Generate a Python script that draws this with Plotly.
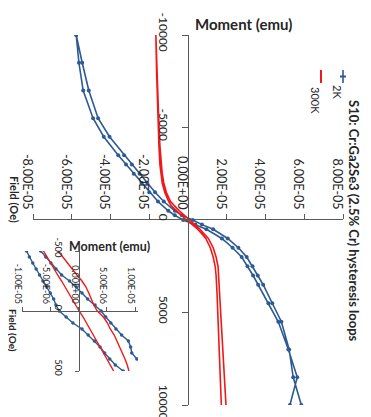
import plotly.graph_objects as go

W, H = 371, 417
FONT = "Lato"
TXT = "#262626"
AX = "#595959"
BLUE = "#2C5A92"
RED = "#F01818"

# ---------------- main chart data ----------------
field_2k_down = [10000, 8500, 7000, 5500, 4500, 3500, 3000, 2500, 2000, 1500, 1000, 500, 250, 0,
                 -250, -500, -1000, -1500, -2000, -2500, -3000, -3500, -4500, -5500, -7000, -8500, -10000]
moment_2k_down = [5.85e-05, 5.43e-05, 5.22e-05, 4.82e-05, 4.35e-05, 3.88e-05, 3.60e-05, 3.33e-05, 3.03e-05,
                  2.60e-05, 2.05e-05, 1.30e-05, 0.72e-05, 0.25e-05, -0.32e-05, -0.68e-05, -1.25e-05,
                  -1.70e-05, -2.10e-05, -2.50e-05, -2.90e-05, -3.30e-05, -4.05e-05, -4.64e-05, -5.12e-05,
                  -5.46e-05, -5.77e-05]
field_2k_up = [-10000, -8500, -7000, -5500, -4500, -3500, -3000, -2500, -2000, -1500, -1000, -500, -250, 0,
               250, 500, 1000, 1500, 2000, 2500, 3000, 3500, 4500, 5500, 7000, 8500, 10000]
moment_2k_up = [-5.77e-05, -5.63e-05, -5.41e-05, -4.90e-05, -4.35e-05, -3.60e-05, -3.20e-05, -2.80e-05,
                -2.40e-05, -2.00e-05, -1.55e-05, -1.02e-05, -0.68e-05, -0.25e-05, 0.38e-05, 0.95e-05,
                1.75e-05, 2.30e-05, 2.77e-05, 3.07e-05, 3.36e-05, 3.62e-05, 4.15e-05, 4.66e-05, 5.18e-05,
                5.64e-05, 5.26e-05]

field_300k_down = [10000, 8000, 6000, 4000, 3000, 2500, 2000, 1500, 1000, 750, 500, 250, 0,
                   -250, -500, -750, -1000, -1500, -2000, -2500, -3000, -4000, -6000, -8000, -10000]
moment_300k_down = [1.96e-05, 1.85e-05, 1.75e-05, 1.65e-05, 1.60e-05, 1.55e-05, 1.45e-05, 1.30e-05, 1.05e-05,
                    0.85e-05, 0.62e-05, 0.35e-05, 0.08e-05, -0.20e-05, -0.45e-05, -0.68e-05, -0.90e-05,
                    -1.12e-05, -1.25e-05, -1.33e-05, -1.38e-05, -1.45e-05, -1.53e-05, -1.59e-05, -1.64e-05]
field_300k_up = [-10000, -8000, -6000, -4000, -3000, -2500, -2000, -1500, -1000, -750, -500, -250, 0,
                 250, 500, 750, 1000, 1500, 2000, 2500, 3000, 4000, 6000, 8000, 10000]
moment_300k_up = [-1.66e-05, -1.62e-05, -1.57e-05, -1.50e-05, -1.45e-05, -1.40e-05, -1.33e-05, -1.20e-05,
                  -1.00e-05, -0.85e-05, -0.60e-05, -0.35e-05, -0.08e-05, 0.22e-05, 0.50e-05, 0.72e-05,
                  0.92e-05, 1.15e-05, 1.30e-05, 1.40e-05, 1.45e-05, 1.50e-05, 1.58e-05, 1.65e-05, 1.72e-05]

moment_ticks = [-8e-05, -6e-05, -4e-05, -2e-05, 0, 2e-05, 4e-05, 6e-05, 8e-05]
moment_labels = ["-8.00E-05", "-6.00E-05", "-4.00E-05", "-2.00E-05", "0.00E+00",
                 "2.00E-05", "4.00E-05", "6.00E-05", "8.00E-05"]
field_ticks = [-10000, -5000, 0, 5000, 10000]
field_labels = ["-10000", "-5000", "0", "5000", "10000"]

# ---------------- inset data (low field) ----------------
inset_field = [-500, -450, -400, -350, -300, -250, -200, -150, -100, -50, 0,
               50, 100, 150, 200, 250, 300, 350, 400, 450, 500]
inset_2k_a = [-9.2e-06, -8.7e-06, -8.1e-06, -7.5e-06, -6.9e-06, -6.3e-06, -5.6e-06, -5.0e-06, -4.4e-06,
              -4.0e-06, -3.4e-06, -2.2e-06, -1.0e-06, 0.6e-06, 1.7e-06, 2.8e-06, 3.8e-06, 4.6e-06,
              5.5e-06, 6.5e-06, 7.9e-06]
inset_field_b = [-500, -450, -400, -350, -300, -250, -200, -150, -100, -50, 0,
                 50, 100, 150, 200, 250, 300, 350, 400]
inset_2k_b = [-6.7e-06, -5.8e-06, -4.9e-06, -4.0e-06, -3.0e-06, -1.6e-06, -0.4e-06, 0.6e-06, 1.6e-06,
              2.9e-06, 4.0e-06, 4.8e-06, 5.7e-06, 6.6e-06, 7.6e-06, 8.8e-06, 9.2e-06, 9.4e-06, 10.3e-06]
inset_300k_a = [-6.2e-06, -5.6e-06, -5.0e-06, -4.4e-06, -3.7e-06, -3.0e-06, -2.4e-06, -1.8e-06, -1.2e-06,
                -0.5e-06, 0.1e-06, 0.8e-06, 1.4e-06, 2.0e-06, 2.6e-06, 3.3e-06, 3.9e-06, 4.5e-06,
                5.1e-06, 5.6e-06, 6.2e-06]
inset_300k_b = [-3.6e-06, -2.8e-06, -2.0e-06, -1.1e-06, -0.3e-06, 0.6e-06, 1.3e-06, 1.8e-06, 2.2e-06,
                2.7e-06, 3.3e-06, 4.4e-06, 5.1e-06, 5.6e-06, 6.3e-06, 6.8e-06, 7.3e-06, 7.8e-06,
                8.2e-06, 8.6e-06, 8.9e-06]

inset_moment_ticks = [-1e-05, -5e-06, 0, 5e-06, 1e-05]
inset_moment_labels = ["-1.00E-05", "-5.00E-06", "0.00E+00", "5.00E-06", "1.00E-05"]
inset_field_ticks = [-500, 0, 500]
inset_field_labels = ["-500", "0", "500"]

series_names = ["2K", "300K"]
title_text = "S10: Cr:Ga2Se3 (2.5% Cr) hysteresis loops"


def px(x):
    return x / W


def py(y):
    return 1 - y / H


fig = go.Figure()

blue_line = dict(color=BLUE, width=1.6)
red_line = dict(color=RED, width=1.6)
blue_marker = dict(symbol="circle", size=4, color=BLUE)

fig.add_trace(go.Scatter(x=moment_2k_down + moment_2k_up, y=field_2k_down + field_2k_up,
                         mode="lines+markers", line=blue_line, marker=blue_marker,
                         name=series_names[0], showlegend=False))
fig.add_trace(go.Scatter(x=moment_300k_down + moment_300k_up, y=field_300k_down + field_300k_up,
                         mode="lines", line=red_line, name=series_names[1], showlegend=False))

# inset traces
inset_marker = dict(symbol="circle", size=3.5, color=BLUE)
fig.add_trace(go.Scatter(x=inset_2k_a, y=inset_field, mode="lines+markers", line=dict(color=BLUE, width=1.4),
                         marker=inset_marker, xaxis="x2", yaxis="y2", showlegend=False))
fig.add_trace(go.Scatter(x=inset_2k_b, y=inset_field_b, mode="lines+markers", line=dict(color=BLUE, width=1.4),
                         marker=inset_marker, xaxis="x2", yaxis="y2", showlegend=False))
fig.add_trace(go.Scatter(x=inset_300k_a, y=inset_field, mode="lines", line=dict(color=RED, width=1.4),
                         xaxis="x2", yaxis="y2", showlegend=False))
fig.add_trace(go.Scatter(x=inset_300k_b, y=inset_field, mode="lines", line=dict(color=RED, width=1.4),
                         xaxis="x2", yaxis="y2", showlegend=False))

common = dict(showgrid=False, zeroline=False, showline=True, linecolor=AX, linewidth=1,
              ticks="outside", tickcolor=AX, tickwidth=1, fixedrange=True, automargin=False)

fig.update_layout(
    width=W, height=H,
    margin=dict(l=0, r=0, t=0, b=0, pad=0),
    paper_bgcolor="white", plot_bgcolor="rgba(0,0,0,0)",
    font=dict(family=FONT, color=TXT),
    showlegend=False,
    xaxis=dict(domain=[px(25), px(335)], range=[-8e-05, 8e-05], anchor="free", position=py(211),
               side="top", ticklen=5, ticklabelshift=-6, tickvals=moment_ticks, ticktext=moment_labels,
               tickangle=90, tickfont=dict(size=12.5, family=FONT, color=TXT), **common),
    yaxis=dict(domain=[py(397), py(27)], range=[10000, -10000], anchor="free", position=px(180),
               side="left", ticklen=6, ticklabelstandoff=9, ticklabelshift=1, tickvals=field_ticks,
               ticktext=field_labels, tickangle=90, tickfont=dict(size=12, family=FONT, color=TXT), **common),
    xaxis2=dict(domain=[px(14), px(130)], range=[-1e-05, 1.05e-05], anchor="free", position=py(303),
                side="top", ticklen=4, ticklabelshift=-4, tickvals=inset_moment_ticks,
                ticktext=inset_moment_labels, tickangle=90, tickfont=dict(size=9, family=FONT, color=TXT),
                **common),
    yaxis2=dict(domain=[py(363), py(243)], range=[500, -500], anchor="free", position=px(70.5),
                side="left", ticklen=4, ticklabelstandoff=8, ticklabelshift=2, tickvals=inset_field_ticks,
                ticktext=inset_field_labels, tickangle=90, tickfont=dict(size=9.5, family=FONT, color=TXT),
                **common),
)

ann = []
# chart title (rotated)
ann.append(dict(text="<b>" + title_text + "</b>", x=px(346), y=py(213), textangle=90,
                font=dict(size=13, family=FONT, color=TXT)))
# axis titles
ann.append(dict(text="<b>Moment (emu)</b>", x=px(235), y=py(16), textangle=0,
                font=dict(size=15, family=FONT, color=TXT)))
ann.append(dict(text="<b>Field (Oe)</b>", x=px(7), y=py(191), textangle=90,
                font=dict(size=11, family=FONT, color=TXT)))
ann.append(dict(text="<b>Moment (emu)</b>", x=px(101), y=py(238), textangle=0,
                font=dict(size=12.5, family=FONT, color=TXT)))
ann.append(dict(text="<b>Field (Oe)</b>", x=px(5), y=py(322), textangle=90,
                font=dict(size=10, family=FONT, color=TXT)))
# legend labels (rotated)
ann.append(dict(text=series_names[0], x=px(329), y=py(84), textangle=90,
                font=dict(size=11, family=FONT, color=TXT)))
ann.append(dict(text=series_names[1], x=px(307), y=py(92), textangle=90,
                font=dict(size=11, family=FONT, color=TXT)))
for a in ann:
    a.update(xref="paper", yref="paper", showarrow=False, xanchor="center", yanchor="middle")
fig.update_layout(annotations=ann)

# legend symbols
fig.update_layout(shapes=[
    dict(type="line", xref="paper", yref="paper", x0=px(335), x1=px(335), y0=py(62), y1=py(75),
         line=dict(color=BLUE, width=1.6)),
    dict(type="line", xref="paper", yref="paper", x0=px(332), x1=px(338), y0=py(68.5), y1=py(68.5),
         line=dict(color=BLUE, width=2)),
    dict(type="line", xref="paper", yref="paper", x0=px(313), x1=px(313), y0=py(62), y1=py(75),
         line=dict(color=RED, width=2)),
])

fig.write_html("out.html")
